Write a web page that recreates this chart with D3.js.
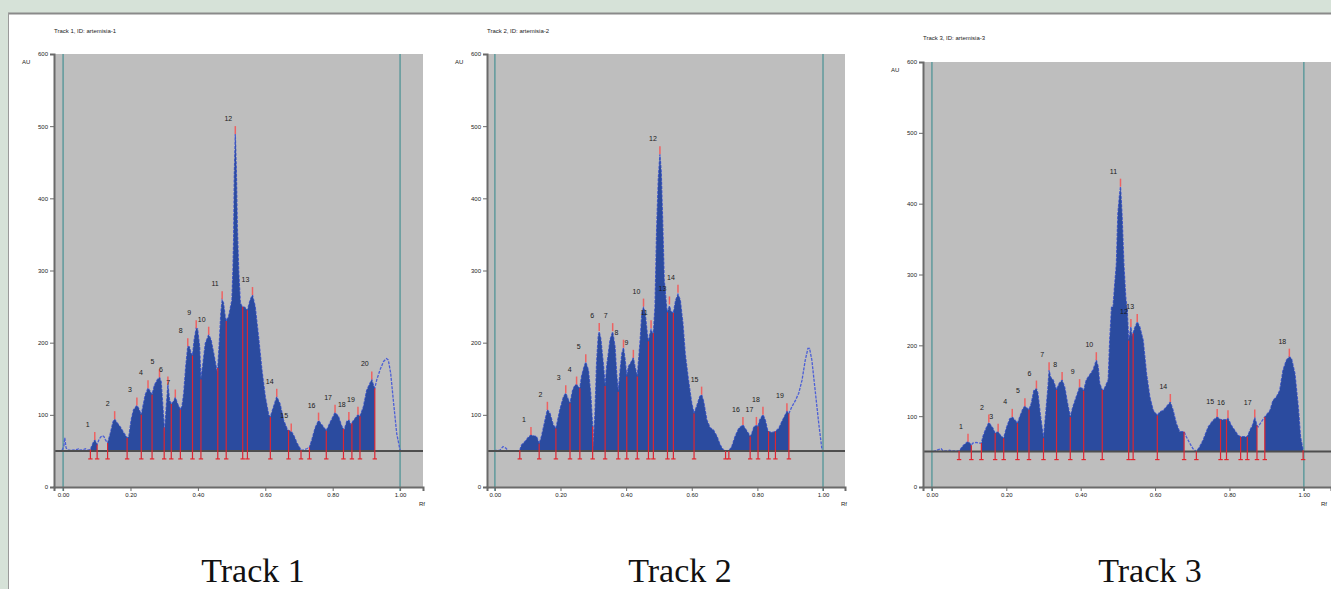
<!DOCTYPE html>
<html>
<head>
<meta charset="utf-8">
<title>Artemisia HPTLC densitograms</title>
<script src="https://d3js.org/d3.v7.min.js"></script>
<style>
  body { margin: 0; background: #d6e2d8; }
  svg { display: block; }
  .tiny { font-family: "Liberation Sans", Arial, sans-serif; font-size: 6px; fill: #222; }
  .num { font-family: "Liberation Sans", Arial, sans-serif; font-size: 7px; fill: #1a1a1a; }
  .axis text { font-family: "Liberation Sans", Arial, sans-serif; font-size: 6px; fill: #222; }
  .axis path, .axis line { stroke: #6a6a6a; }
</style>
</head>
<body>
<div id="chart"></div>
<script>
// ---- data (Rf, AU) ----
const trackNames = ["Track 1", "Track 2", "Track 3"];
const trackIds = ["artemisia-1", "artemisia-2", "artemisia-3"];
const yTicks = [0, 100, 200, 300, 400, 500, 600];
const xTicks = [0, 0.2, 0.4, 0.6, 0.8, 1.0];
const baselineAU = 50;

const curve1 = [[-0.003,51],[0.002,56],[0.005,68],[0.009,54],[0.015,51],[0.027,51],[0.042,52],[0.046,53],[0.051,51],[0.061,52],[0.066,53],[0.073,51],[0.081,52],[0.086,58],[0.091,63],[0.094,65],[0.101,59],[0.106,65],[0.111,69],[0.116,71],[0.121,70],[0.125,66],[0.130,62],[0.132,61],[0.140,74],[0.148,90],[0.153,94],[0.160,89],[0.170,83],[0.180,75],[0.190,68],[0.195,70],[0.202,93],[0.209,107],[0.219,113],[0.224,109],[0.232,100],[0.237,112],[0.244,128],[0.252,137],[0.259,132],[0.264,128],[0.271,141],[0.279,148],[0.286,152],[0.291,146],[0.296,112],[0.301,75],[0.306,110],[0.311,142],[0.316,120],[0.321,115],[0.327,118],[0.333,124],[0.340,115],[0.348,107],[0.353,112],[0.358,130],[0.364,167],[0.370,195],[0.375,194],[0.379,186],[0.384,182],[0.389,204],[0.395,220],[0.399,219],[0.405,195],[0.409,149],[0.414,167],[0.422,199],[0.432,211],[0.439,204],[0.447,185],[0.458,157],[0.464,204],[0.468,240],[0.472,259],[0.476,255],[0.481,236],[0.484,230],[0.491,236],[0.501,259],[0.504,300],[0.506,340],[0.508,430],[0.511,489],[0.514,440],[0.517,360],[0.521,300],[0.526,255],[0.531,250],[0.539,249],[0.547,245],[0.555,259],[0.562,266],[0.570,250],[0.580,208],[0.590,162],[0.600,125],[0.610,100],[0.615,97],[0.625,112],[0.634,125],[0.644,115],[0.654,93],[0.666,79],[0.677,77],[0.684,72],[0.694,61],[0.706,51],[0.713,51],[0.723,53],[0.731,55],[0.738,65],[0.748,82],[0.758,92],[0.768,86],[0.781,78],[0.793,90],[0.807,103],[0.817,98],[0.827,84],[0.834,79],[0.842,91],[0.848,93],[0.854,86],[0.860,91],[0.875,100],[0.881,98],[0.891,111],[0.901,134],[0.916,149],[0.921,141],[0.925,137],[0.931,149],[0.941,163],[0.951,174],[0.960,178],[0.965,176],[0.972,158],[0.980,120],[0.990,74],[1.000,51]];
const zones1 = [[0.081,0.101],[0.132,0.706],[0.731,0.925]];
const bounds1 = [0.081,0.101,0.132,0.190,0.232,0.264,0.300,0.321,0.348,0.384,0.409,0.459,0.484,0.533,0.547,0.615,0.669,0.706,0.731,0.781,0.832,0.857,0.881,0.925];
const peaks1 = [[1,0.094,65],[2,0.153,94],[3,0.219,113],[4,0.252,137],[5,0.286,152],[6,0.311,142],[7,0.333,124],[8,0.370,195],[9,0.395,220],[10,0.432,211],[11,0.472,260],[12,0.511,489],[13,0.562,266],[14,0.634,125],[15,0.677,77],[16,0.758,92],[17,0.807,103],[18,0.848,93],[19,0.875,100],[20,0.916,149]];

const curve2 = [[-0.015,50],[0.015,51],[0.025,56],[0.033,54],[0.041,50],[0.071,50],[0.076,51],[0.081,58],[0.092,63],[0.102,69],[0.110,72],[0.117,71],[0.127,70],[0.135,60],[0.142,70],[0.153,93],[0.160,107],[0.168,102],[0.178,86],[0.186,81],[0.198,107],[0.209,125],[0.216,130],[0.224,121],[0.229,116],[0.237,134],[0.244,141],[0.249,142],[0.254,139],[0.259,137],[0.264,153],[0.272,167],[0.277,173],[0.285,162],[0.292,130],[0.298,84],[0.300,55],[0.305,102],[0.310,172],[0.315,209],[0.318,215],[0.323,205],[0.331,168],[0.336,140],[0.341,168],[0.351,204],[0.359,215],[0.366,195],[0.371,158],[0.376,132],[0.381,158],[0.387,185],[0.392,193],[0.397,176],[0.402,153],[0.407,167],[0.414,172],[0.422,179],[0.427,167],[0.434,153],[0.443,205],[0.448,241],[0.453,249],[0.458,241],[0.465,210],[0.468,202],[0.473,213],[0.476,218],[0.480,213],[0.483,213],[0.488,250],[0.493,357],[0.498,426],[0.503,461],[0.507,436],[0.512,357],[0.516,287],[0.524,246],[0.526,242],[0.532,251],[0.537,243],[0.544,241],[0.551,259],[0.558,267],[0.565,259],[0.573,227],[0.580,185],[0.590,148],[0.600,116],[0.607,102],[0.615,112],[0.624,125],[0.630,128],[0.636,119],[0.646,93],[0.656,82],[0.666,79],[0.677,70],[0.687,58],[0.697,51],[0.703,50],[0.713,50],[0.722,56],[0.732,70],[0.743,81],[0.756,86],[0.763,81],[0.773,74],[0.778,70],[0.783,74],[0.790,84],[0.797,85],[0.802,84],[0.807,93],[0.817,100],[0.824,93],[0.831,79],[0.834,77],[0.839,76],[0.849,76],[0.855,77],[0.865,81],[0.875,91],[0.885,100],[0.890,105],[0.896,102],[0.905,111],[0.916,120],[0.926,130],[0.936,148],[0.946,176],[0.954,192],[0.959,192],[0.966,176],[0.977,130],[0.987,88],[0.997,51]];
const zones2 = [[0.076,0.703],[0.713,0.896]];
const bounds2 = [0.076,0.135,0.186,0.229,0.259,0.298,0.336,0.376,0.402,0.434,0.468,0.483,0.526,0.544,0.607,0.703,0.713,0.778,0.802,0.834,0.855,0.896];
const peaks2 = [[1,0.110,72],[2,0.160,107],[3,0.216,130],[4,0.249,142],[5,0.277,173],[6,0.318,216],[7,0.359,216],[8,0.392,193],[9,0.422,179],[10,0.453,250],[11,0.476,220],[12,0.503,461],[13,0.532,253],[14,0.558,269],[15,0.630,128],[16,0.756,86],[17,0.797,86],[18,0.817,100],[19,0.890,105]];

const curve3 = [[0.003,50],[0.025,54],[0.030,51],[0.043,51],[0.048,52],[0.052,51],[0.065,51],[0.073,51],[0.079,55],[0.085,59],[0.092,62],[0.097,64],[0.101,62],[0.106,59],[0.110,62],[0.119,63],[0.126,62],[0.133,62],[0.137,71],[0.144,81],[0.153,91],[0.164,83],[0.170,76],[0.178,78],[0.184,73],[0.193,69],[0.200,83],[0.209,96],[0.216,99],[0.222,95],[0.230,90],[0.236,99],[0.245,111],[0.250,114],[0.256,111],[0.261,109],[0.267,118],[0.274,136],[0.281,139],[0.285,132],[0.291,104],[0.300,69],[0.306,104],[0.312,141],[0.315,165],[0.319,155],[0.326,151],[0.335,137],[0.342,146],[0.350,151],[0.357,141],[0.364,120],[0.372,99],[0.379,113],[0.388,127],[0.397,141],[0.404,139],[0.408,136],[0.415,151],[0.424,158],[0.433,165],[0.442,179],[0.447,170],[0.451,146],[0.458,137],[0.462,137],[0.474,151],[0.478,207],[0.483,254],[0.487,254],[0.491,283],[0.496,315],[0.500,386],[0.504,410],[0.507,424],[0.511,386],[0.516,315],[0.521,268],[0.525,250],[0.529,207],[0.535,226],[0.538,212],[0.545,224],[0.552,233],[0.559,226],[0.568,207],[0.577,160],[0.586,127],[0.595,108],[0.606,101],[0.613,106],[0.622,108],[0.630,113],[0.641,120],[0.648,109],[0.657,90],[0.666,78],[0.678,78],[0.684,71],[0.693,62],[0.702,54],[0.711,50],[0.720,57],[0.729,66],[0.743,85],[0.756,94],[0.767,99],[0.776,95],[0.783,95],[0.792,95],[0.796,97],[0.805,87],[0.814,80],[0.823,73],[0.830,71],[0.837,71],[0.848,71],[0.855,80],[0.862,87],[0.868,98],[0.874,87],[0.877,85],[0.886,92],[0.895,99],[0.900,102],[0.909,108],[0.917,122],[0.926,127],[0.935,136],[0.944,165],[0.953,179],[0.961,184],[0.967,181],[0.976,160],[0.985,113],[0.991,71],[0.998,52]];
const zones3 = [[0.073,0.106],[0.133,0.678],[0.711,0.874],[0.895,0.998]];
const bounds3 = [0.073,0.106,0.133,0.170,0.193,0.230,0.261,0.300,0.335,0.372,0.408,0.458,0.529,0.541,0.606,0.678,0.711,0.776,0.792,0.830,0.848,0.874,0.895,0.998];
const peaks3 = [[1,0.097,64],[2,0.153,91],[3,0.178,78],[4,0.216,99],[5,0.250,114],[6,0.281,139],[7,0.315,165],[8,0.350,151],[9,0.397,141],[10,0.442,179],[11,0.507,424],[12,0.535,226],[13,0.552,233],[14,0.641,120],[15,0.767,99],[16,0.796,97],[17,0.868,98],[18,0.961,184]];

// ---- layout ----
const W = 1331, H = 589;
const panels = [
  { curve: curve1, zones: zones1, bounds: bounds1, peaks: peaks1, x0: 54, x1: 423, rf0: -0.027, rf1: 1.068, yTop: 54, yBot: 487, titleY: 33, labelX: 253, rfX: 419 },
  { curve: curve2, zones: zones2, bounds: bounds2, peaks: peaks2, x0: 487, x1: 845, rf0: -0.024, rf1: 1.067, yTop: 54, yBot: 487, titleY: 33, labelX: 680, rfX: 841 },
  { curve: curve3, zones: zones3, bounds: bounds3, peaks: peaks3, x0: 923, x1: 1331, rf0: -0.024, rf1: 1.073, yTop: 62, yBot: 487, titleY: 40, labelX: 1150, rfX: 1321 }
];

const svg = d3.select("#chart").append("svg")
    .attr("width", W)
    .attr("height", H);

svg.append("rect").attr("width", W).attr("height", H).attr("fill", "#d6e2d8");
svg.append("rect").attr("x", 8).attr("y", 13).attr("width", W - 8).attr("height", H - 13).attr("fill", "#fff");
svg.append("line").attr("x1", 8).attr("x2", W).attr("y1", 13.5).attr("y2", 13.5).attr("stroke", "#8a8a8a").attr("stroke-width", 2);
svg.append("line").attr("x1", 8.5).attr("x2", 8.5).attr("y1", 13).attr("y2", H).attr("stroke", "#9a9a9a");

const defs = svg.append("defs");

panels.forEach((p, i) => {
  const x = d3.scaleLinear().domain([p.rf0, p.rf1]).range([p.x0, p.x1]);
  const y = d3.scaleLinear().domain([0, 600]).range([p.yBot, p.yTop]);
  const g = svg.append("g");
  const yb = y(baselineAU);

  // height of the scan at a given Rf (for the boundary lines)
  const bis = d3.bisector(d => d[0]).left;
  const valueAt = rf => {
    const j = Math.max(1, Math.min(p.curve.length - 1, bis(p.curve, rf)));
    const a = p.curve[j - 1], b = p.curve[j];
    const t = (rf - a[0]) / (b[0] - a[0]);
    return a[1] + (b[1] - a[1]) * Math.max(0, Math.min(1, t));
  };

  g.append("rect")
    .attr("x", p.x0).attr("y", p.yTop)
    .attr("width", p.x1 - p.x0).attr("height", p.yBot - p.yTop)
    .attr("fill", "#bebebe");

  // start / front lines
  g.selectAll(".front").data([0, 1]).join("line")
    .attr("x1", d => x(d)).attr("x2", d => x(d))
    .attr("y1", p.yTop).attr("y2", p.yBot + 4)
    .attr("stroke", "#5f9a9c").attr("stroke-width", 1.5);

  // raw scan (unintegrated parts show as thin dashed line)
  const line = d3.line().x(d => x(d[0])).y(d => y(d[1]));
  g.append("path")
    .datum(p.curve)
    .attr("d", line)
    .attr("fill", "none")
    .attr("stroke", "#4c5fd6")
    .attr("stroke-width", 1.3)
    .attr("stroke-dasharray", "3,1.2");

  // integrated peak areas
  const clipId = "zones-" + i;
  defs.append("clipPath").attr("id", clipId)
    .selectAll("rect").data(p.zones).join("rect")
    .attr("x", d => x(d[0])).attr("width", d => x(d[1]) - x(d[0]))
    .attr("y", p.yTop).attr("height", p.yBot - p.yTop);

  const area = d3.area().x(d => x(d[0])).y0(yb).y1(d => y(d[1]));
  g.append("path")
    .datum(p.curve)
    .attr("d", area)
    .attr("clip-path", `url(#${clipId})`)
    .attr("fill", "#2b4b9f");

  // baseline
  g.append("line")
    .attr("x1", p.x0).attr("x2", p.x1)
    .attr("y1", yb).attr("y2", yb)
    .attr("stroke", "#4e4e4e").attr("stroke-width", 2);

  // peak boundaries
  g.selectAll(".bound").data(p.bounds).join("line")
    .attr("x1", d => x(d)).attr("x2", d => x(d))
    .attr("y1", yb + 8).attr("y2", d => y(valueAt(d)))
    .attr("stroke", "#dc2633").attr("stroke-width", 1.2);
  g.selectAll(".foot").data(p.bounds).join("line")
    .attr("x1", d => x(d) - 2.2).attr("x2", d => x(d) + 2.2)
    .attr("y1", yb + 8).attr("y2", yb + 8)
    .attr("stroke", "#e5262c").attr("stroke-width", 1.2);

  // peak maxima ticks + numbers
  g.selectAll(".ptick").data(p.peaks).join("line")
    .attr("x1", d => x(d[1])).attr("x2", d => x(d[1]))
    .attr("y1", d => y(d[2])).attr("y2", d => y(d[2]) - 8)
    .attr("stroke", "#ee6262").attr("stroke-width", 1.5);
  g.selectAll(".plabel").data(p.peaks).join("text")
    .attr("class", "num")
    .attr("x", d => x(d[1]) - 7).attr("y", d => y(d[2]) - 13)
    .attr("text-anchor", "middle")
    .text(d => d[0]);

  // axes
  const ya = g.append("g").attr("class", "axis")
    .attr("transform", `translate(${p.x0},0)`)
    .call(d3.axisLeft(y).tickValues(yTicks).tickSize(4).tickPadding(2));
  ya.select(".domain").attr("stroke-width", 2);

  const xa = g.append("g").attr("class", "axis")
    .attr("transform", `translate(0,${p.yBot})`)
    .call(d3.axisBottom(x).tickValues(xTicks).tickSize(4).tickPadding(2).tickFormat(d3.format(".2f")));
  xa.select(".domain").attr("stroke-width", 2);

  g.append("text").attr("class", "tiny")
    .attr("x", p.rfX).attr("y", p.yBot + 19)
    .text("Rf");
  g.append("text").attr("class", "tiny")
    .attr("x", p.x0 - 32).attr("y", p.yTop + 10)
    .text("AU");
  g.append("text").attr("class", "tiny")
    .attr("x", p.x0).attr("y", p.titleY)
    .text(`${trackNames[i]}, ID: ${trackIds[i]}`);

  svg.append("text")
    .attr("x", p.labelX).attr("y", 582)
    .attr("text-anchor", "middle")
    .attr("font-family", "'Liberation Serif', 'Times New Roman', serif")
    .attr("font-size", 34)
    .attr("fill", "#111")
    .text(trackNames[i]);
});
</script>
</body>
</html>
